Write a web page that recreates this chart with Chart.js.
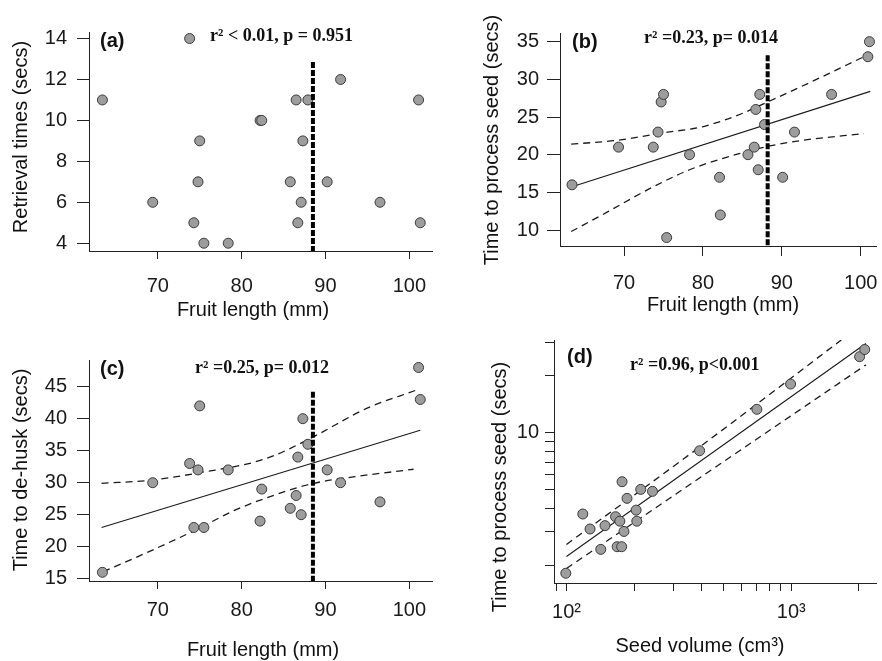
<!DOCTYPE html>
<html>
<head>
<meta charset="utf-8">
<script src="https://cdn.jsdelivr.net/npm/chart.js@4.4.0/dist/chart.umd.min.js"></script>
<style>
  body { margin: 0; background: #fff; }
  #fig { position: relative; width: 882px; height: 661px; overflow: hidden; }
  #fig canvas { position: absolute; }
</style>
</head>
<body>
<div id="fig">
  <canvas id="chartA" width="441" height="320" style="left:0;top:0"></canvas>
  <canvas id="chartB" width="441" height="320" style="left:441px;top:0"></canvas>
  <canvas id="chartC" width="441" height="341" style="left:0;top:320px"></canvas>
  <canvas id="chartD" width="441" height="341" style="left:441px;top:320px"></canvas>
</div>
<script>
// panel (a) + (c): fruit length vs retrieval / de-husk time
const fruitLenA = [63.4, 69.4, 73.8, 74.3, 74.8, 75.0, 75.5, 78.4, 82.2, 82.4, 85.8, 86.5, 86.7, 87.1, 87.3, 87.9, 90.2, 91.8, 96.5, 101.1, 101.3];
const retrievalTime = [11, 6, 14, 5, 7, 9, 4, 4, 10, 10, 7, 11, 5, 6, 9, 11, 7, 12, 6, 11, 5];
const dehuskTime = [16, 30, 33, 23, 32, 42, 23, 32, 24, 29, 26, 28, 34, 25, 40, 36, 32, 30, 27, 48, 43];

// panel (b)
const fruitLenB = [63.4, 69.3, 73.7, 74.3, 74.7, 75.0, 75.4, 78.3, 82.1, 82.2, 85.7, 86.5, 86.7, 87.0, 87.2, 87.8, 90.1, 91.6, 96.3, 100.9, 101.1];
const processTimeB = [16, 21, 21, 23, 27, 28, 9, 20, 17, 12, 20, 21, 26, 18, 28, 24, 17, 23, 28, 33, 35];

// panel (d)
const seedVolume = [99.3, 118.2, 127.3, 142.1, 148.4, 165.3, 168.0, 176.0, 172.7, 176.7, 180.2, 185.9, 204.1, 205.5, 214, 241.3, 391, 703, 993, 2014, 2122];
const processTimeD = [1.81, 3.72, 3.10, 2.42, 3.23, 3.60, 2.50, 2.50, 3.41, 5.51, 3.01, 4.50, 3.90, 3.41, 5.02, 4.90, 8.03, 13.29, 18.07, 25.2, 27.5];

// fitted lines and 95% bands
const bFitX = [63.3, 101.2], bFitY = [15.7, 28.4];
const bUpperX = [63.3, 69.1, 74.9, 79.9, 84.8, 88.2, 93.8, 100.6];
const bUpperY = [21.4, 21.9, 22.9, 23.7, 25.4, 27.0, 29.7, 33.1];
const bLowerX = [63.3, 67.9, 72.9, 78.3, 84.8, 88.2, 92.6, 100.4];
const bLowerY = [9.8, 12.4, 15.3, 18.0, 20.2, 21.1, 21.9, 22.8];

const cFitX = [63.3, 101.3], cFitY = [23.0, 38.2];
const cUpperX = [63.3, 69.3, 75.6, 81.2, 84.0, 88.6, 94.9, 100.9];
const cUpperY = [29.9, 30.4, 31.7, 33.1, 34.3, 37.2, 41.6, 44.5];
const cLowerX = [63.5, 68.9, 74.5, 79.2, 84.0, 88.6, 93.3, 100.5];
const cLowerY = [16.1, 19.2, 22.6, 25.7, 28.1, 29.9, 30.9, 32.1];

const dFitX = [100, 2148], dFitY = [2.22, 29.6];
const dUpperX = [100, 391, 1670], dUpperY = [2.57, 8.4, 30.9];
const dLowerX = [100, 2148], dLowerY = [1.92, 22.8];

// thick dotted cut-off line (a, b, c)
const cutoffLen = [88.5, 88.2, 88.5];
const cutoffTop = [12.86, 33.2, 44.2];

// ticks
const lenTicks = [70, 80, 90, 100];
const retrievalTicks = [4, 6, 8, 10, 12, 14];
const processTicksB = [10, 15, 20, 25, 30, 35];
const dehuskTicks = [15, 20, 25, 30, 35, 40, 45];
const volTicks = [90, 100, 200, 300, 400, 500, 600, 700, 800, 900, 1000, 2000];
const volLabels = { 100: "10²", 1000: "10³" };
const timeTicksD = [2, 3, 4, 5, 6, 7, 8, 9, 10, 20, 30];
const timeLabelsD = { 10: "10" };

const panelLabels = ["(a)", "(b)", "(c)", "(d)"];
const statText = ["r² < 0.01, p = 0.951", "r² =0.23, p= 0.014", "r² =0.25, p= 0.012", "r² =0.96, p<0.001"];

Chart.defaults.font.family = "'Liberation Sans', Arial, sans-serif";
Chart.defaults.color = "#1a1a1a";

function pts(xs, ys) {
  return xs.map((x, i) => ({ x: x, y: ys[i] }));
}

function pointSet(xs, ys) {
  return {
    data: pts(xs, ys), showLine: false,
    pointRadius: 5, pointHoverRadius: 5,
    pointBackgroundColor: "#9d9d9d", pointBorderColor: "#3a3a3a", pointBorderWidth: 1
  };
}

function lineSet(xs, ys, dashed) {
  return {
    data: pts(xs, ys), showLine: true, pointRadius: 0,
    borderColor: "#1a1a1a", borderWidth: dashed ? 1.3 : 1.1,
    borderDash: dashed ? [7, 5] : [],
    cubicInterpolationMode: "monotone"
  };
}

function cutoffSet(x, top, bottom) {
  return {
    data: [{ x: x, y: top }, { x: x, y: bottom }], showLine: true, pointRadius: 0,
    borderColor: "#000", borderWidth: 4, borderDash: [6, 2], borderCapStyle: "butt"
  };
}

function axis(type, min, max, tickVals, size, tickLen, pad, labelFn) {
  return {
    type: type, min: min, max: max,
    afterBuildTicks: s => { s.ticks = tickVals.map(v => ({ value: v })); },
    afterFit: s => {
      if (s.isHorizontal()) s.height = size; else s.width = size;
      s.paddingLeft = 0; s.paddingRight = 0; s.paddingTop = 0; s.paddingBottom = 0;
    },
    grid: { drawOnChartArea: false, drawTicks: true, tickLength: tickLen, color: "#222", lineWidth: 1 },
    border: { display: true, color: "#222", width: 1 },
    ticks: {
      autoSkip: false, maxRotation: 0, minRotation: 0, padding: pad,
      color: "#1a1a1a", font: { size: 20 },
      callback: labelFn || (v => String(v))
    }
  };
}

// draws panel letter, stats and axis titles
function textPlugin(items) {
  return {
    id: "panelText",
    afterDraw(chart) {
      const ctx = chart.ctx;
      items.forEach(t => {
        ctx.save();
        ctx.font = t.font;
        ctx.fillStyle = "#111";
        ctx.textAlign = t.align || "center";
        ctx.textBaseline = "middle";
        ctx.translate(t.x, t.y);
        if (t.rot) ctx.rotate(-Math.PI / 2);
        ctx.fillText(t.text, 0, 0);
        ctx.restore();
      });
    }
  };
}

const LETTER = "bold 20px 'Liberation Sans', Arial";
const STAT = "bold 18px 'Liberation Serif', 'Times New Roman'";
const TITLE = "20px 'Liberation Sans', Arial";

function makeChart(id, datasets, xAxis, yAxis, padding, texts) {
  return new Chart(document.getElementById(id), {
    type: "scatter",
    data: { datasets: datasets },
    options: {
      responsive: false,
      animation: false,
      devicePixelRatio: 1,
      layout: { padding: padding },
      plugins: { legend: { display: false }, tooltip: { enabled: false } },
      scales: { x: xAxis, y: yAxis }
    },
    plugins: [textPlugin(texts)]
  });
}

// (a)
makeChart("chartA",
  [cutoffSet(cutoffLen[0], cutoffTop[0], 3.62), pointSet(fruitLenA, retrievalTime)],
  axis("linear", 61.8, 102.7, lenTicks, 69, 8, 15),
  axis("linear", 3.62, 14.32, retrievalTicks, 89, 12, 10),
  { left: 0, top: 32, right: 9, bottom: 0 },
  [
    { text: panelLabels[0], x: 100, y: 41, font: LETTER, align: "left" },
    { text: statText[0], x: 210, y: 36, font: STAT, align: "left" },
    { text: "Fruit length (mm)", x: 253, y: 310, font: TITLE },
    { text: "Retrieval times (secs)", x: 21, y: 137, font: TITLE, rot: true }
  ]);

// (b)
makeChart("chartB",
  [cutoffSet(cutoffLen[1], cutoffTop[1], 7.88), pointSet(fruitLenB, processTimeB),
   lineSet(bFitX, bFitY, false), lineSet(bUpperX, bUpperY, true), lineSet(bLowerX, bLowerY, true)],
  axis("linear", 61.88, 101.93, lenTicks, 74, 10, 15),
  axis("linear", 7.88, 36.15, processTicksB, 119, 13, 8),
  { left: 0, top: 33, right: 0, bottom: 0 },
  [
    { text: panelLabels[1], x: 131, y: 42, font: LETTER, align: "left" },
    { text: statText[1], x: 203, y: 38, font: STAT, align: "left" },
    { text: "Fruit length (mm)", x: 282, y: 305, font: TITLE },
    { text: "Time to process seed (secs)", x: 51, y: 140, font: TITLE, rot: true }
  ]);

// (c)
makeChart("chartC",
  [cutoffSet(cutoffLen[2], cutoffTop[2], 14.64), pointSet(fruitLenA, dehuskTime),
   lineSet(cFitX, cFitY, false), lineSet(cUpperX, cUpperY, true), lineSet(cLowerX, cLowerY, true)],
  axis("linear", 61.8, 102.7, lenTicks, 80, 8, 9),
  axis("linear", 14.64, 49.17, dehuskTicks, 89, 12, 10),
  { left: 0, top: 40, right: 9, bottom: 0 },
  [
    { text: panelLabels[2], x: 100, y: 49, font: LETTER, align: "left" },
    { text: statText[2], x: 195, y: 48, font: STAT, align: "left" },
    { text: "Fruit length (mm)", x: 263, y: 330, font: TITLE },
    { text: "Time to de-husk (secs)", x: 21, y: 150, font: TITLE, rot: true }
  ]);

// (d) log-log
makeChart("chartD",
  [pointSet(seedVolume, processTimeD),
   lineSet(dFitX, dFitY, false), lineSet(dUpperX, dUpperY, true), lineSet(dLowerX, dLowerY, true)],
  axis("logarithmic", 88.0, 2382, volTicks, 78, 8, 9, v => volLabels[v] || ""),
  axis("logarithmic", 1.608, 30.87, timeTicksD, 113, 9, 6, v => timeLabelsD[v] || ""),
  { left: 0, top: 20, right: 0, bottom: 0 },
  [
    { text: panelLabels[3], x: 126, y: 37, font: LETTER, align: "left" },
    { text: statText[3], x: 189, y: 45, font: STAT, align: "left" },
    { text: "Seed volume (cm³)", x: 259, y: 326, font: TITLE },
    { text: "Time to process seed (secs)", x: 59, y: 167, font: TITLE, rot: true }
  ]);
</script>
</body>
</html>
